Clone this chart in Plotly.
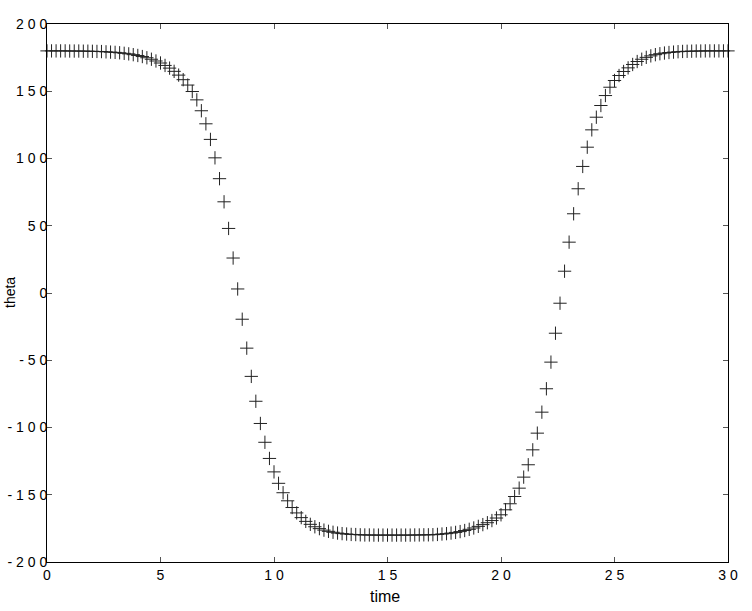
import plotly.graph_objects as go

time = [round(i * 0.2, 1) for i in range(151)]

theta = [
    # 0.0 - 2.8
    180.0, 180.0, 180.0, 180.0, 180.0, 179.9, 179.9, 179.9, 179.8, 179.8,
    179.7, 179.6, 179.5, 179.3, 179.1,
    # 3.0 - 5.8
    178.9, 178.6, 178.2, 177.8, 177.2, 176.6, 175.8, 174.9, 173.8, 172.5,
    171.0, 169.2, 167.2, 164.8, 162.0,
    # 6.0 - 8.8
    158.6, 154.6, 149.8, 143.6, 135.5, 125.8, 114.2, 100.5, 85.0, 67.8,
    48.0, 26.0, 3.0, -19.5, -41.0,
    # 9.0 - 11.8
    -62.0, -80.5, -97.0, -111.0, -123.0, -133.0, -141.5, -148.5, -154.5, -159.5,
    -163.5, -167.0, -169.8, -172.0, -173.8,
    # 12.0 - 14.8
    -175.2, -176.3, -177.2, -177.9, -178.5, -178.9, -179.2, -179.5, -179.6, -179.8,
    -179.9, -179.9, -180.0, -180.0, -180.0,
    # 15.0 - 17.8
    -180.0, -180.0, -180.0, -180.0, -180.0, -180.0, -179.9, -179.9, -179.8, -179.8,
    -179.7, -179.5, -179.2, -178.9, -178.5,
    # 18.0 - 20.8
    -178.0, -177.4, -176.6, -175.7, -174.7, -173.5, -172.2, -170.8, -169.2, -167.3,
    -164.9, -161.2, -156.7, -151.3, -145.1,
    # 21.0 - 23.8
    -136.9, -127.7, -116.6, -104.2, -88.6, -71.2, -51.4, -29.9, -7.6, 16.2,
    37.8, 58.9, 77.5, 94.1, 108.4,
    # 24.0 - 26.8
    121.3, 130.7, 139.4, 146.8, 153.0, 158.0, 161.7, 164.7, 167.4, 169.9,
    172.1, 173.8, 175.2, 176.3, 177.2,
    # 27.0 - 29.8
    177.9, 178.4, 178.8, 179.1, 179.4, 179.6, 179.7, 179.8, 179.9, 179.9,
    180.0, 180.0, 180.0, 180.0, 180.0,
    # 30.0
    180.0,
]

x_tickvals = [0, 5, 10, 15, 20, 25, 30]
x_ticktext = ["0", "5", "1 0", "1 5", "2 0", "2 5", "3 0"]
y_tickvals = [200, 150, 100, 50, 0, -50, -100, -150, -200]
y_ticktext = ["2 0 0", "1 5 0", "1 0 0", "5 0", "0", "- 5 0", "- 1 0 0", "- 1 5 0", "- 2 0 0"]

FONT = "Liberation Sans, Arial, sans-serif"

fig = go.Figure()
fig.add_trace(go.Scatter(
    x=time, y=theta, mode="markers",
    marker=dict(symbol="cross-thin-open", size=9.5,
                line=dict(width=1, color="#222"), color="#222"),
    cliponaxis=False, showlegend=False,
))

axis_common = dict(
    showgrid=False, zeroline=False, showline=True, linecolor="black", linewidth=1,
    mirror="allticks", ticks="inside", ticklen=5, tickcolor="#555", tickwidth=1,
    automargin=False,
    tickfont=dict(family=FONT, size=14, color="black"),
)

fig.update_layout(
    width=752, height=611,
    margin=dict(l=47, r=24, t=24, b=49),
    plot_bgcolor="white", paper_bgcolor="white",
    xaxis=dict(range=[0, 30], tickvals=x_tickvals, ticktext=x_ticktext, **axis_common),
    yaxis=dict(range=[-200, 200], tickvals=y_tickvals, ticktext=y_ticktext,
               ticklabelstandoff=-4, **axis_common),
    annotations=[
        dict(text="time", xref="paper", yref="paper", x=0.497, y=-0.045,
             xanchor="center", yanchor="top", showarrow=False,
             font=dict(family=FONT, size=16, color="black")),
        dict(text="theta", xref="paper", yref="paper", x=-0.069, y=0.5,
             xanchor="left", yanchor="middle", textangle=-90, showarrow=False,
             font=dict(family=FONT, size=14, color="black")),
    ],
)

fig.write_html("out.html", config={"displayModeBar": False},
               post_script="document.body.style.margin='0';")
